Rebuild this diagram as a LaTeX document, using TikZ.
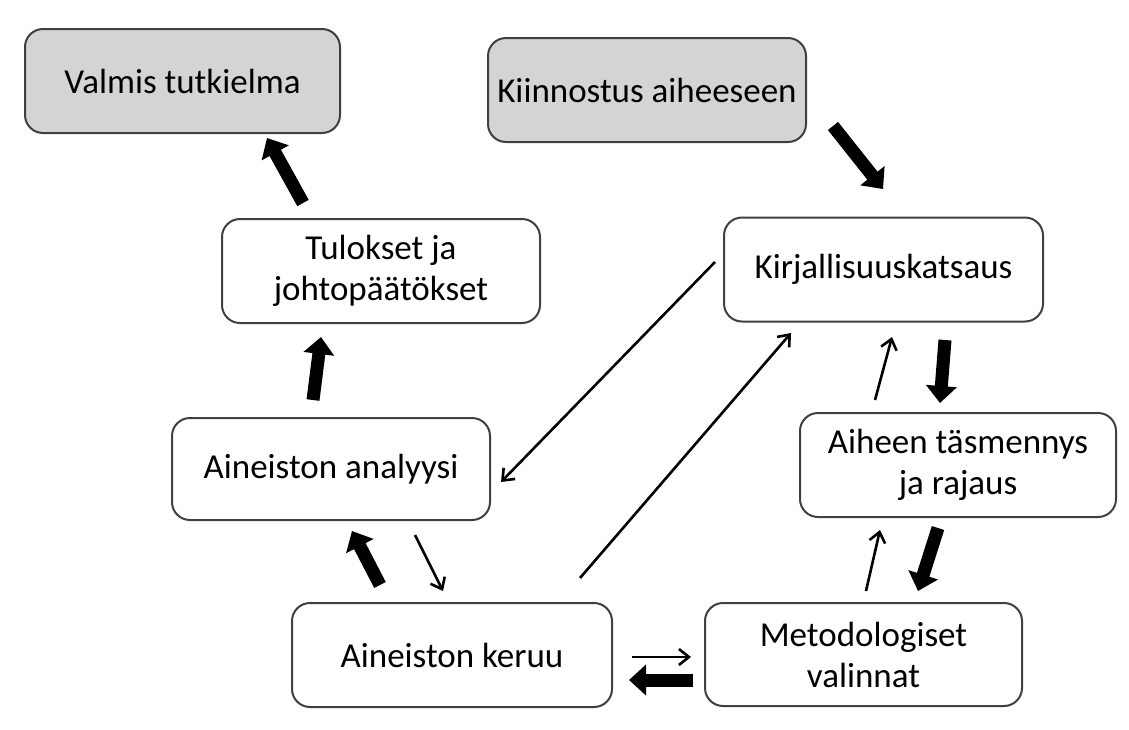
\documentclass[tikz,border=0pt]{standalone}
\usepackage{fontspec}
\setmainfont{Carlito}
\usetikzlibrary{arrows.meta}
\begin{document}
\begin{tikzpicture}[x=1pt,y=-1pt,
  box/.style={draw=black!75,line width=2pt,rounded corners=18pt,fill=white,
    minimum width=#1,minimum height=104pt,align=center,inner sep=0pt,
    font=\fontsize{35}{41}\selectfont},
  gbox/.style={box=#1,fill=black!17},
  fat/.style={line width=13pt,-{Triangle[width=30pt,length=17pt]}},
  thin/.style={line width=2.6pt,-{Straight Barb[length=10pt,width=16pt,line width=2.6pt]}}]
\useasboundingbox (0,0) rectangle (1129,729);
\fill[white] (0,0) rectangle (1129,729);
\node[gbox=315pt] (valmis) at (182.5,81) {Valmis tutkielma};
\node[gbox=318pt] (kiin) at (647,90) {\raisebox{-5pt}{Kiinnostus aiheeseen}};
\node[box=318pt] (tul) at (381,271) {Tulokset ja\\johtopäätökset};
\node[box=319pt] (kirj) at (883.5,269.5) {Kirjallisuuskatsaus};
\node[box=318pt,minimum height=102pt] (anal) at (331,469) {Aineiston analyysi};
\node[box=316pt] (aih) at (958,465) {Aiheen täsmennys\\ja rajaus};
\node[box=320pt] (ker) at (452,655) {Aineiston keruu};
\node[box=317pt,minimum height=103pt] (met) at (863.5,654.5) {Metodologiset\\valinnat};
% arrow endpoints
\coordinate (t1) at (303,203); \coordinate (h1) at (267,138);
\coordinate (t2) at (833,126); \coordinate (h2) at (883,189);
\coordinate (t3) at (945,340); \coordinate (h3) at (940,403);
\coordinate (t4) at (875,400); \coordinate (h4) at (892,337);
\coordinate (t5) at (938,528); \coordinate (h5) at (918,591);
\coordinate (t6) at (866,591); \coordinate (h6) at (880,530);
\coordinate (t7) at (380,585); \coordinate (h7) at (352,531);
\coordinate (t8) at (415,535); \coordinate (h8) at (443,591);
\coordinate (t9) at (632,657); \coordinate (h9) at (691,657);
\coordinate (t10) at (693,680); \coordinate (h10) at (629,680);
\coordinate (t11) at (715,262); \coordinate (h11) at (501,482);
\coordinate (t12) at (580,578); \coordinate (h12) at (791,333);
\coordinate (t13) at (313,400); \coordinate (h13) at (321,337);
\draw[fat] (t1) -- (h1);
\draw[fat] (t2) -- (h2);
\draw[fat] (t3) -- (h3);
\draw[thin] (t4) -- (h4);
\draw[fat] (t5) -- (h5);
\draw[thin] (t6) -- (h6);
\draw[fat] (t7) -- (h7);
\draw[thin] (t8) -- (h8);
\draw[thin] (t9) -- (h9);
\draw[fat] (t10) -- (h10);
\draw[thin] (t11) -- (h11);
\draw[thin] (t12) -- (h12);
\draw[fat] (t13) -- (h13);
\end{tikzpicture}
\end{document}
